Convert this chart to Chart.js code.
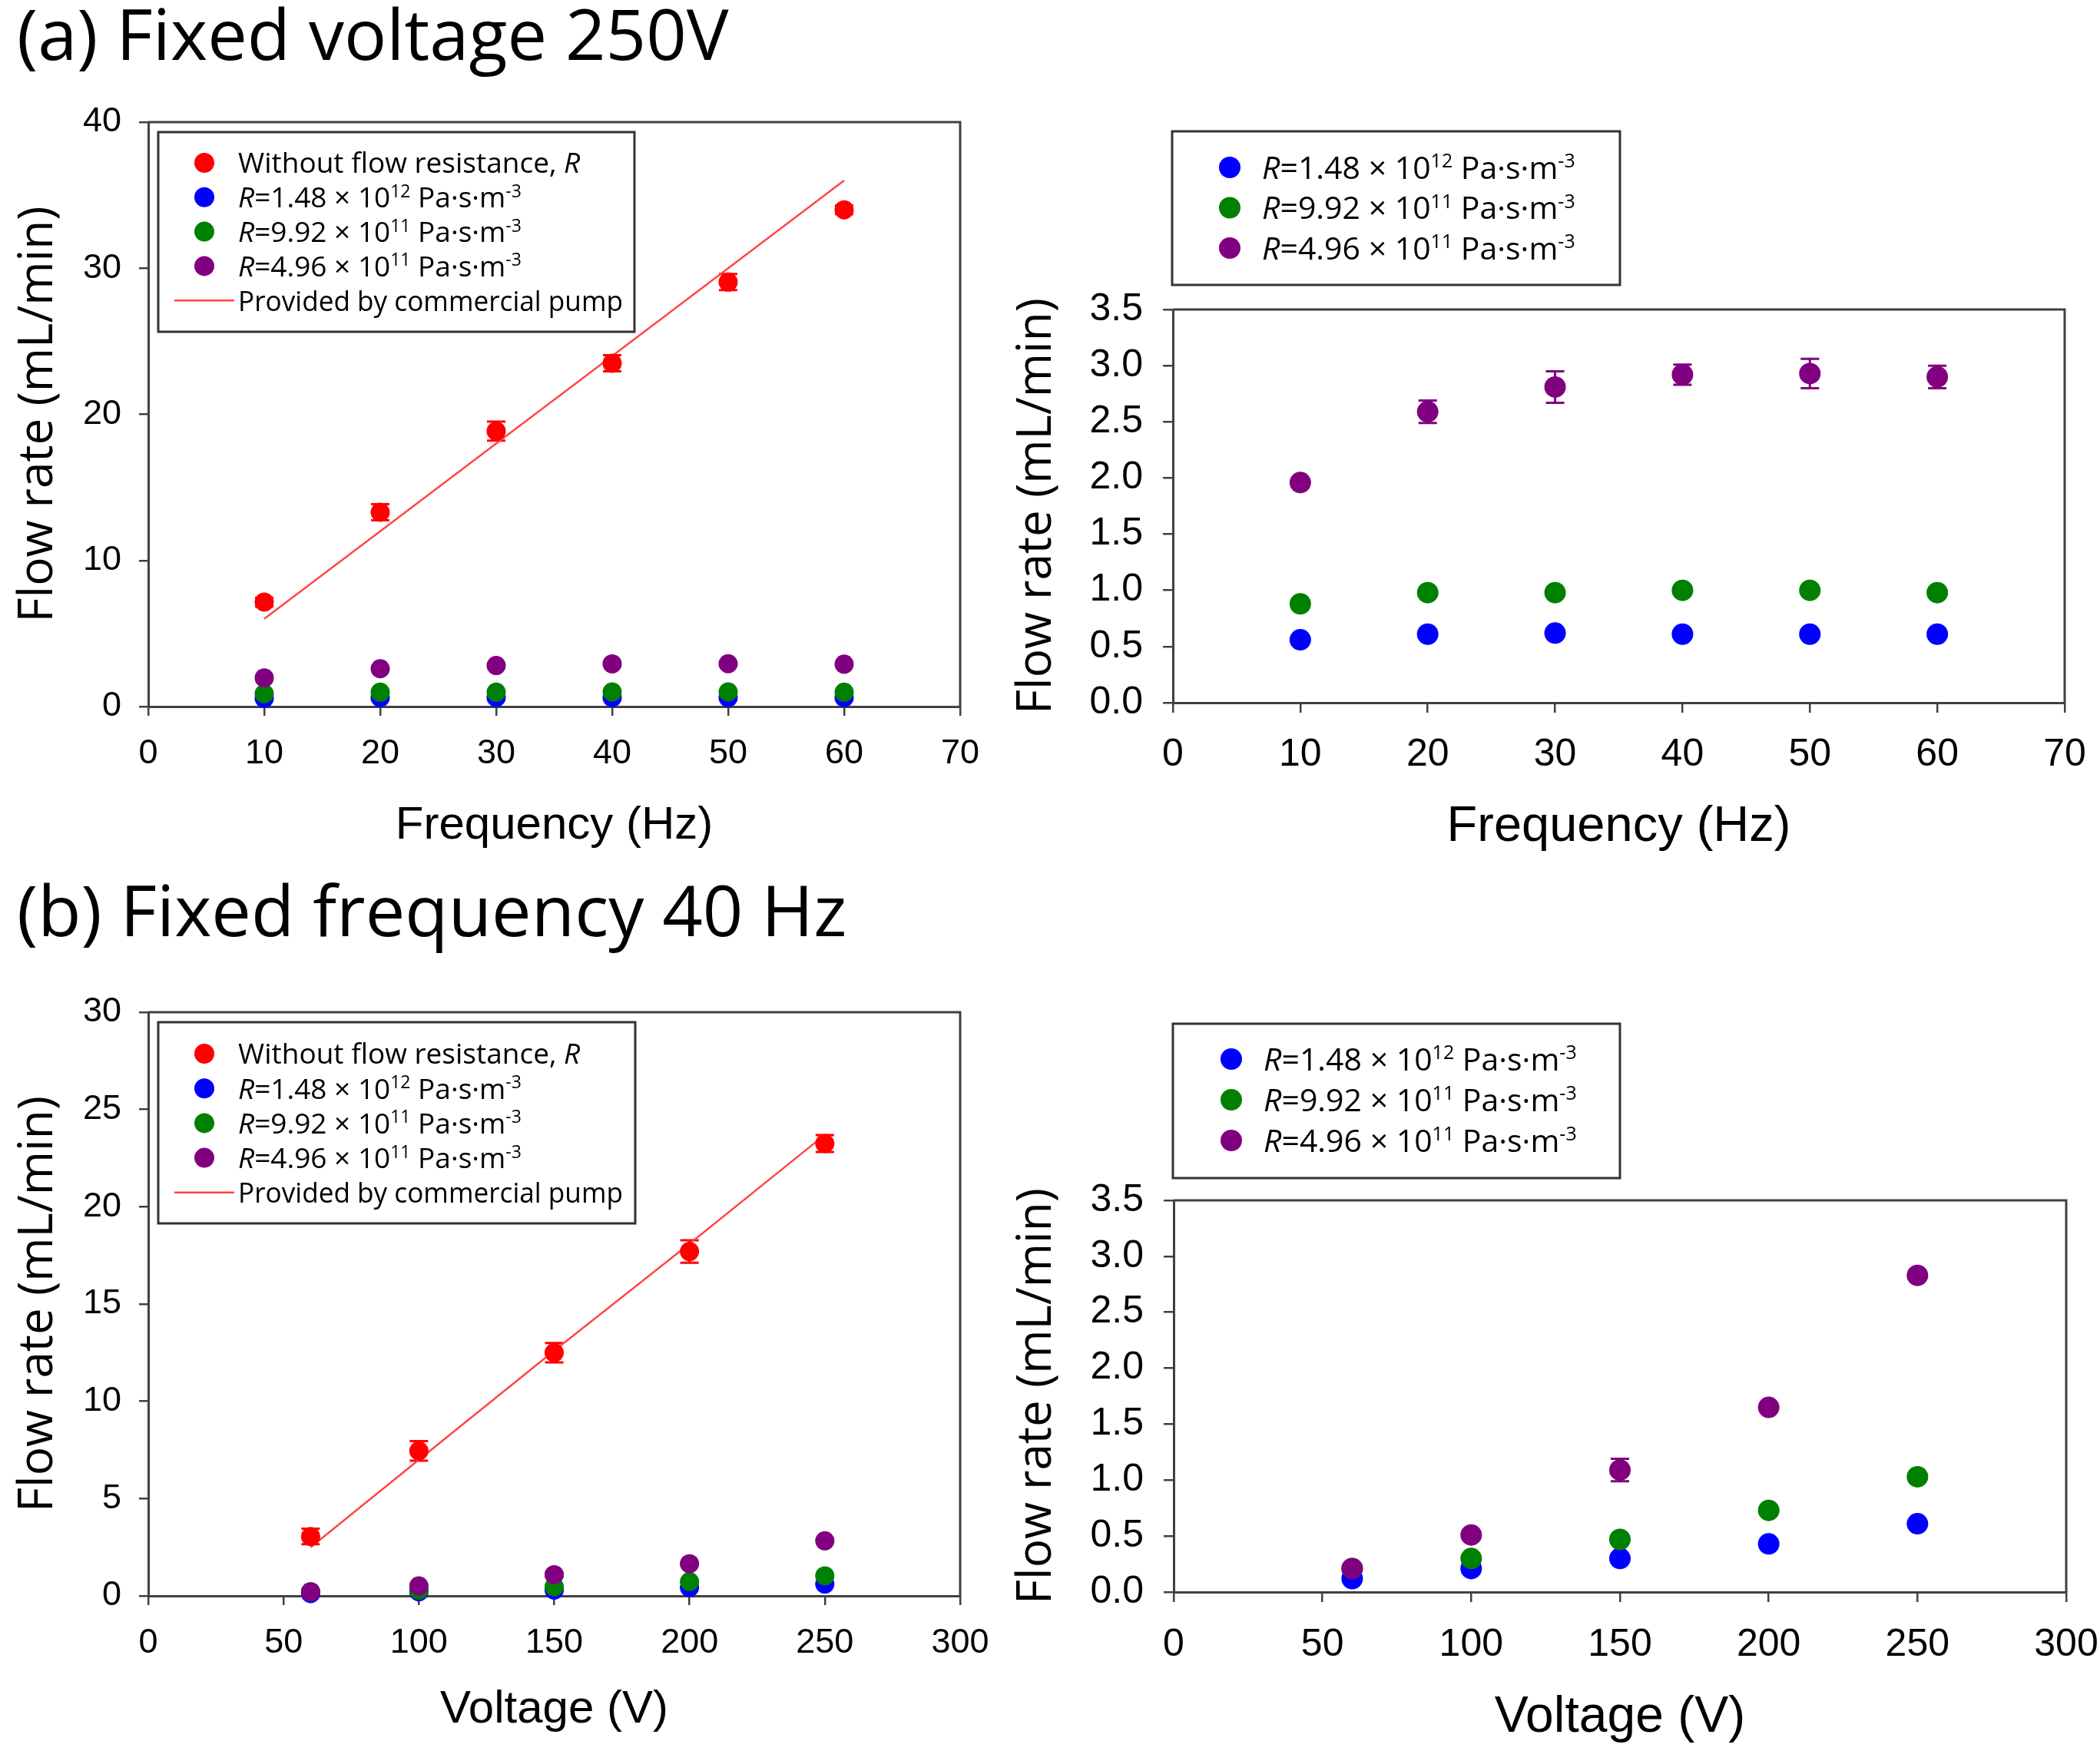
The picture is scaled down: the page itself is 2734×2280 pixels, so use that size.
<!DOCTYPE html>
<html lang="en">
<head>
<meta charset="UTF-8">
<title>Flow rate vs frequency and voltage</title>
<script src="https://cdn.jsdelivr.net/npm/chart.js"></script>
<style>
  html, body { margin: 0; padding: 0; background: #fff; }
  body { width: 2734px; height: 2280px; position: relative; overflow: hidden; }
  canvas { position: absolute; }
  .panel-title { position: absolute; font-family: 'Open Sans', sans-serif; font-size: 92px; line-height: 92px; color: #000; white-space: nowrap; }
</style>
</head>
<body>
<div class="panel-title" style="left:22px; top:-3px;">(a) Fixed voltage 250V</div>
<div class="panel-title" style="left:22px; top:1138px;">(b) Fixed frequency 40 Hz</div>

<canvas id="chartA1" width="1300" height="1010" style="left:0; top:120px;"></canvas>
<canvas id="chartA2" width="1434" height="1010" style="left:1300px; top:120px;"></canvas>
<canvas id="chartB1" width="1300" height="1000" style="left:0; top:1280px;"></canvas>
<canvas id="chartB2" width="1434" height="1000" style="left:1300px; top:1280px;"></canvas>

<script>
// ---- data ----
const frequency = [10, 20, 30, 40, 50, 60];
const voltage = [60, 100, 150, 200, 250];

// (a) fixed voltage 250 V
const aNoR     = [7.15, 13.3, 18.85, 23.5, 29.05, 34.0];
const aNoRErr  = [0.3, 0.55, 0.65, 0.55, 0.55, 0.3];
const aR148    = [0.56, 0.61, 0.62, 0.61, 0.61, 0.61];
const aR148Err = [0.02, 0.02, 0.02, 0.02, 0.02, 0.02];
const aR992    = [0.88, 0.98, 0.98, 1.0, 1.0, 0.98];
const aR992Err = [0.02, 0.02, 0.02, 0.02, 0.02, 0.02];
const aR496    = [1.96, 2.59, 2.81, 2.92, 2.93, 2.90];
const aR496Err = [0.03, 0.1, 0.14, 0.09, 0.13, 0.1];
const aPump    = [6, 12, 18, 24, 30, 36];

// (b) fixed frequency 40 Hz
const bNoR     = [3.05, 7.45, 12.5, 17.7, 23.25];
const bNoRErr  = [0.4, 0.5, 0.5, 0.58, 0.43];
const bR148    = [0.12, 0.21, 0.30, 0.43, 0.61];
const bR148Err = [0.02, 0.02, 0.02, 0.02, 0.03];
const bR992    = [0.21, 0.30, 0.47, 0.73, 1.03];
const bR992Err = [0.02, 0.02, 0.02, 0.02, 0.02];
const bR496    = [0.21, 0.51, 1.09, 1.65, 2.83];
const bR496Err = [0.02, 0.03, 0.1, 0.03, 0.03];
const bPump    = [2.5, 7.0, 12.6, 18.1, 23.7];

// tick values
const freqTicks = [0, 10, 20, 30, 40, 50, 60, 70];
const voltTicks = [0, 50, 100, 150, 200, 250, 300];
const aFlowTicks = [0, 10, 20, 30, 40];
const bFlowTicks = [0, 5, 10, 15, 20, 25, 30];
const zoomFlowTicks = [0, 0.5, 1.0, 1.5, 2.0, 2.5, 3.0, 3.5];

// legend labels (*..* italic, ^{..} superscript)
const lblNoR  = 'Without flow resistance, *R*';
const lblR148 = '*R*=1.48 × 10^{12} Pa·s·m^{-3}';
const lblR992 = '*R*=9.92 × 10^{11} Pa·s·m^{-3}';
const lblR496 = '*R*=4.96 × 10^{11} Pa·s·m^{-3}';
const lblPump = 'Provided by commercial pump';

const xTitleA = 'Frequency (Hz)';
const xTitleB = 'Voltage (V)';
const yTitle = 'Flow rate (mL/min)';

// ---- styling ----
const RED = '#ff0000', BLUE = '#0000ff', GREEN = '#008000', PURPLE = '#800080', PUMP = '#ff4646';
const AXIS = '#404040';

function pts(xs, ys) { return xs.map((x, i) => ({ x: x, y: ys[i] })); }
function plain(s) { return s.replace(/\*/g, '').replace(/\^\{([^}]*)\}/g, '$1'); }

// text with italic and superscript runs, squeezed to maxW if too long
function drawRich(ctx, x, y, text, size, maxW) {
  const parts = text.split(/(\*[^*]+\*|\^\{[^}]+\})/).filter(Boolean).map(p => {
    let s = p, font = size + 'px "Open Sans"', dy = 0;
    if (p[0] === '*') { s = p.slice(1, -1); font = 'italic ' + font; }
    else if (p[0] === '^') { s = p.slice(2, -1); font = Math.round(size * 0.62) + 'px "Open Sans"'; dy = -size * 0.36; }
    return { s, font, dy };
  });
  let total = 0;
  parts.forEach(p => { ctx.font = p.font; p.w = ctx.measureText(p.s).width; total += p.w; });
  const k = maxW && total > maxW ? maxW / total : 1;
  ctx.save();
  ctx.translate(x, y);
  ctx.scale(k, 1);
  ctx.fillStyle = '#000';
  ctx.textBaseline = 'alphabetic';
  ctx.textAlign = 'left';
  let cx = 0;
  parts.forEach(p => {
    ctx.font = p.font;
    ctx.fillText(p.s, cx, p.dy);
    cx += p.w;
  });
  ctx.restore();
}

// error bars, drawn under the markers
const errorBars = {
  id: 'errorBars',
  beforeDatasetsDraw(chart) {
    const ctx = chart.ctx, ys = chart.scales.y;
    chart.data.datasets.forEach((ds, i) => {
      if (!ds.errors) return;
      const meta = chart.getDatasetMeta(i);
      ctx.save();
      ctx.strokeStyle = ds.backgroundColor;
      ctx.lineWidth = 3;
      meta.data.forEach((el, j) => {
        const v = ds.data[j].y, e = ds.errors[j];
        const top = ys.getPixelForValue(v + e), bot = ys.getPixelForValue(v - e);
        const cap = 12;
        ctx.beginPath();
        ctx.moveTo(el.x, top); ctx.lineTo(el.x, bot);
        ctx.moveTo(el.x - cap, top); ctx.lineTo(el.x + cap, top);
        ctx.moveTo(el.x - cap, bot); ctx.lineTo(el.x + cap, bot);
        ctx.stroke();
      });
      ctx.restore();
    });
  }
};

// top and right sides of the plot box
const frame = {
  id: 'frame',
  beforeDatasetsDraw(chart) {
    const { ctx, chartArea: a } = chart;
    ctx.save();
    ctx.strokeStyle = AXIS;
    ctx.lineWidth = 3;
    ctx.beginPath();
    ctx.moveTo(a.left, a.top); ctx.lineTo(a.right, a.top); ctx.lineTo(a.right, a.bottom);
    ctx.stroke();
    ctx.restore();
  }
};

const boxLegend = {
  id: 'boxLegend',
  afterDraw(chart, args, o) {
    if (!o.items) return;
    const ctx = chart.ctx;
    ctx.save();
    ctx.fillStyle = '#fff';
    ctx.fillRect(o.x, o.y, o.w, o.h);
    ctx.strokeStyle = '#333';
    ctx.lineWidth = 3;
    ctx.strokeRect(o.x, o.y, o.w, o.h);
    o.items.forEach((it, k) => {
      const cy = o.rowY + k * o.rowGap;
      if (it.line) {
        ctx.strokeStyle = it.color;
        ctx.lineWidth = 2.5;
        ctx.beginPath();
        ctx.moveTo(o.lineX0, cy); ctx.lineTo(o.lineX1, cy);
        ctx.stroke();
      } else {
        ctx.fillStyle = it.color;
        ctx.beginPath();
        ctx.arc(o.markerX, cy, o.markerR, 0, Math.PI * 2);
        ctx.fill();
      }
      drawRich(ctx, o.textX, cy + o.font * 0.36, it.text, o.font, o.textMaxW);
    });
    ctx.restore();
  }
};

function scatterSet(label, xs, ys, errs, color, order, r) {
  return { label: plain(label), data: pts(xs, ys), errors: errs, backgroundColor: color,
           pointRadius: r, pointHoverRadius: r, pointBorderWidth: 0, order: order, clip: false };
}
function pumpSet(xs, ys) {
  return { label: lblPump, data: pts(xs, ys), showLine: true, borderColor: PUMP, borderWidth: 2.5,
           pointRadius: 0, order: 9, clip: false };
}

function axis(o) {
  return {
    type: 'linear',
    min: o.ticks[0],
    max: o.ticks[o.ticks.length - 1],
    afterBuildTicks: s => { s.ticks = o.ticks.map(v => ({ value: v })); },
    afterFit: o.fit,
    grid: { drawOnChartArea: false, drawTicks: true, tickLength: o.tickLen, color: AXIS, lineWidth: 2.5 },
    border: { display: true, color: AXIS, width: 3 },
    ticks: { padding: o.tickPad, color: '#000', autoSkip: false, maxRotation: 0,
             font: { family: 'Liberation Sans', size: o.tickSize },
             callback: v => v.toFixed(o.dec) },
    title: { display: true, text: o.title, color: '#000',
             font: { family: o.titleFamily, size: o.titleSize }, padding: o.titlePad }
  };
}

function makeChart(id, c) {
  return new Chart(document.getElementById(id), {
    type: 'scatter',
    data: { datasets: c.datasets },
    options: {
      responsive: false,
      animation: false,
      events: [],
      layout: { padding: { top: c.padTop, right: c.padRight, left: 0, bottom: 0 } },
      plugins: { legend: { display: false }, tooltip: { enabled: false }, boxLegend: c.legend },
      scales: {
        x: axis({ ticks: c.xTicks, dec: 0, tickLen: c.tickLen, tickPad: c.xTickPad, tickSize: c.tickSize,
                  title: c.xTitle, titleFamily: 'Liberation Sans', titleSize: c.xTitleSize,
                  titlePad: { top: 0, bottom: c.xTitlePad },
                  fit: s => { s.height = c.xH; s.paddingLeft = 0; s.paddingRight = 0; } }),
        y: axis({ ticks: c.yTicks, dec: c.yDec, tickLen: c.tickLen, tickPad: c.yTickPad, tickSize: c.tickSize,
                  title: yTitle, titleFamily: 'Open Sans', titleSize: 62,
                  titlePad: { top: 13, bottom: 0 },
                  fit: s => { s.width = c.yW; s.paddingTop = 0; s.paddingBottom = 0; } })
      }
    },
    plugins: [frame, errorBars, boxLegend]
  });
}

const legendFull = [
  { text: lblNoR, color: RED }, { text: lblR148, color: BLUE }, { text: lblR992, color: GREEN },
  { text: lblR496, color: PURPLE }, { text: lblPump, color: PUMP, line: true }
];
const legendR = [
  { text: lblR148, color: BLUE }, { text: lblR992, color: GREEN }, { text: lblR496, color: PURPLE }
];

// (a) left
makeChart('chartA1', {
  datasets: [
    pumpSet(frequency, aPump),
    scatterSet(lblNoR, frequency, aNoR, aNoRErr, RED, 3, 12.5),
    scatterSet(lblR148, frequency, aR148, aR148Err, BLUE, 2, 12.5),
    scatterSet(lblR992, frequency, aR992, aR992Err, GREEN, 1, 12.5),
    scatterSet(lblR496, frequency, aR496, aR496Err, PURPLE, 0, 12.5)
  ],
  xTicks: freqTicks, yTicks: aFlowTicks, yDec: 0,
  padTop: 39, padRight: 50, yW: 193, xH: 210,
  tickLen: 12, tickSize: 45, xTickPad: 23, yTickPad: 23,
  xTitle: xTitleA, xTitleSize: 60, xTitlePad: 19,
  legend: { items: legendFull, x: 206, y: 52, w: 620, h: 260, rowY: 92, rowGap: 44.8,
            markerX: 266, markerR: 13, textX: 310, font: 37, textMaxW: 501, lineX0: 227, lineX1: 305 }
});

// (a) right
makeChart('chartA2', {
  datasets: [
    scatterSet(lblR148, frequency, aR148, aR148Err, BLUE, 2, 14),
    scatterSet(lblR992, frequency, aR992, aR992Err, GREEN, 1, 14),
    scatterSet(lblR496, frequency, aR496, aR496Err, PURPLE, 0, 14)
  ],
  xTicks: freqTicks, yTicks: zoomFlowTicks, yDec: 1,
  padTop: 283, padRight: 46, yW: 227, xH: 215,
  tickLen: 13, tickSize: 50, xTickPad: 25, yTickPad: 26,
  xTitle: xTitleA, xTitleSize: 65, xTitlePad: 14,
  legend: { items: legendR, x: 226, y: 51, w: 583, h: 200, rowY: 98, rowGap: 52.5,
            markerX: 301, markerR: 14, textX: 343, font: 41, textMaxW: 440 }
});

// (b) left
makeChart('chartB1', {
  datasets: [
    pumpSet(voltage, bPump),
    scatterSet(lblNoR, voltage, bNoR, bNoRErr, RED, 3, 12.5),
    scatterSet(lblR148, voltage, bR148, bR148Err, BLUE, 2, 12.5),
    scatterSet(lblR992, voltage, bR992, bR992Err, GREEN, 1, 12.5),
    scatterSet(lblR496, voltage, bR496, bR496Err, PURPLE, 0, 12.5)
  ],
  xTicks: voltTicks, yTicks: bFlowTicks, yDec: 0,
  padTop: 38, padRight: 50, yW: 193, xH: 202,
  tickLen: 12, tickSize: 45, xTickPad: 23, yTickPad: 23,
  xTitle: xTitleB, xTitleSize: 60, xTitlePad: 18,
  legend: { items: legendFull, x: 206, y: 51, w: 621, h: 262, rowY: 92, rowGap: 45.2,
            markerX: 266, markerR: 13, textX: 310, font: 37, textMaxW: 501, lineX0: 227, lineX1: 305 }
});

// (b) right
makeChart('chartB2', {
  datasets: [
    scatterSet(lblR148, voltage, bR148, bR148Err, BLUE, 2, 14),
    scatterSet(lblR992, voltage, bR992, bR992Err, GREEN, 1, 14),
    scatterSet(lblR496, voltage, bR496, bR496Err, PURPLE, 0, 14)
  ],
  xTicks: voltTicks, yTicks: zoomFlowTicks, yDec: 1,
  padTop: 283, padRight: 44, yW: 228, xH: 207,
  tickLen: 13, tickSize: 50, xTickPad: 26, yTickPad: 26,
  xTitle: xTitleB, xTitleSize: 66, xTitlePad: 4,
  legend: { items: legendR, x: 227, y: 53, w: 582, h: 201, rowY: 99, rowGap: 53,
            markerX: 303, markerR: 14, textX: 345, font: 41, textMaxW: 440 }
});
</script>
</body>
</html>
